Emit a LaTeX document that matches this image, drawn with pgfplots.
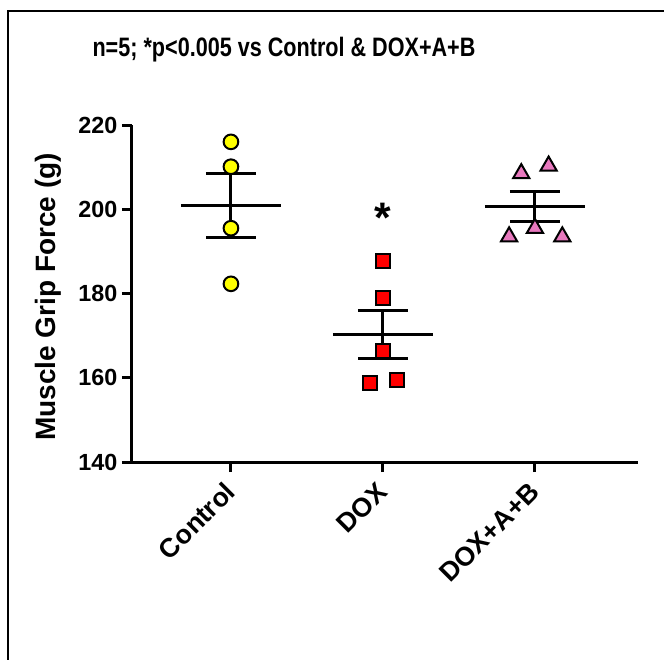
\documentclass[border=0pt]{standalone}
\usepackage{fontspec}
\setmainfont{Liberation Sans}
\usepackage{graphicx}
\usepackage{pgfplots}
\pgfplotsset{compat=1.18}
\definecolor{cyel}{RGB}{255,255,0}
\definecolor{cred}{RGB}{255,0,0}
\definecolor{cpink}{RGB}{232,120,190}
\begin{document}
\begin{tikzpicture}
\path[use as bounding box] (0pt,0pt) rectangle (498pt,-495pt);
\begin{scope}
\clip (0pt,0pt) rectangle (498pt,-495pt);
\draw[line width=2pt] (6pt,-520pt) -- (6pt,-8.25pt) -- (520pt,-8.25pt);
\end{scope}
\node at (213pt,-37.5pt) {\scalebox{0.81}[1]{\fontsize{20}{22}\selectfont\bfseries n=5; *p<0.005 vs Control \& DOX+A+B}};
\begin{axis}[
  at={(99pt,-346.5pt)}, anchor=south west,
  scale only axis, width=379.5pt, height=252.75pt,
  xmin=-0.651, xmax=2.678, ymin=140, ymax=220,
  axis lines=left, axis line style={-, line width=2.25pt, black},
  xtick={0,1,2}, xticklabels={Control,DOX,DOX+A+B},
  ytick={140,160,180,200,220},
  tick align=outside, major tick length=7.5pt,
  tick style={line width=2.25pt, black},
  /pgf/number format/assume math mode=true,
  yticklabel style={font=\fontsize{17.5}{17.5}\selectfont\bfseries},
  xticklabel style={font=\fontsize{20}{20}\selectfont\bfseries, yshift=-9pt, xshift=2pt, rotate=45, anchor=east},
  ylabel={Muscle Grip Force (g)},
  ylabel style={font=\fontsize{21}{21}\selectfont\bfseries, at={(axis description cs:-0.166,0.49)}, anchor=center},
  clip=false,
]
% SEM error bars
\addplot[draw=none, mark=none, forget plot, error bars/.cd, y dir=both, y explicit,
  error bar style={line width=2.25pt, black},
  error mark options={rotate=90, mark size=18.75pt, line width=2.25pt, black}]
  coordinates {(0,200.9) +- (0,7.6) (1,170.2) +- (0,5.7) (2,200.6) +- (0,3.6)};
% means
\addplot[line width=2.25pt, black, forget plot] coordinates {(-0.33,200.9) (0.33,200.9)};
\addplot[line width=2.25pt, black, forget plot] coordinates {(0.67,170.2) (1.33,170.2)};
\addplot[line width=2.25pt, black, forget plot] coordinates {(1.67,200.6) (2.33,200.6)};
% points
\addplot[only marks, mark=*, mark size=5.5pt, mark options={fill=cyel, draw=black, line width=1.5pt}]
  coordinates {(0,216.0) (0,210.1) (0,195.5) (0,182.3)};
\addplot[only marks, mark=square*, mark size=5.3pt, mark options={fill=cred, draw=black, line width=1.5pt}]
  coordinates {(1,187.7) (1,178.9) (1,166.4) (0.915,158.7) (1.09,159.5)};
\addplot[only marks, mark=triangle*, mark size=7pt, mark options={fill=cpink, draw=black, line width=1.5pt}]
  coordinates {(1.91,208.5) (2.09,210.3) (1.83,193.5) (2.0,195.5) (2.18,193.5)};
\node[anchor=base, font=\fontsize{32}{32}\selectfont\bfseries] at (axis cs:1,194.6) {*};
\end{axis}
\end{tikzpicture}
\end{document}
